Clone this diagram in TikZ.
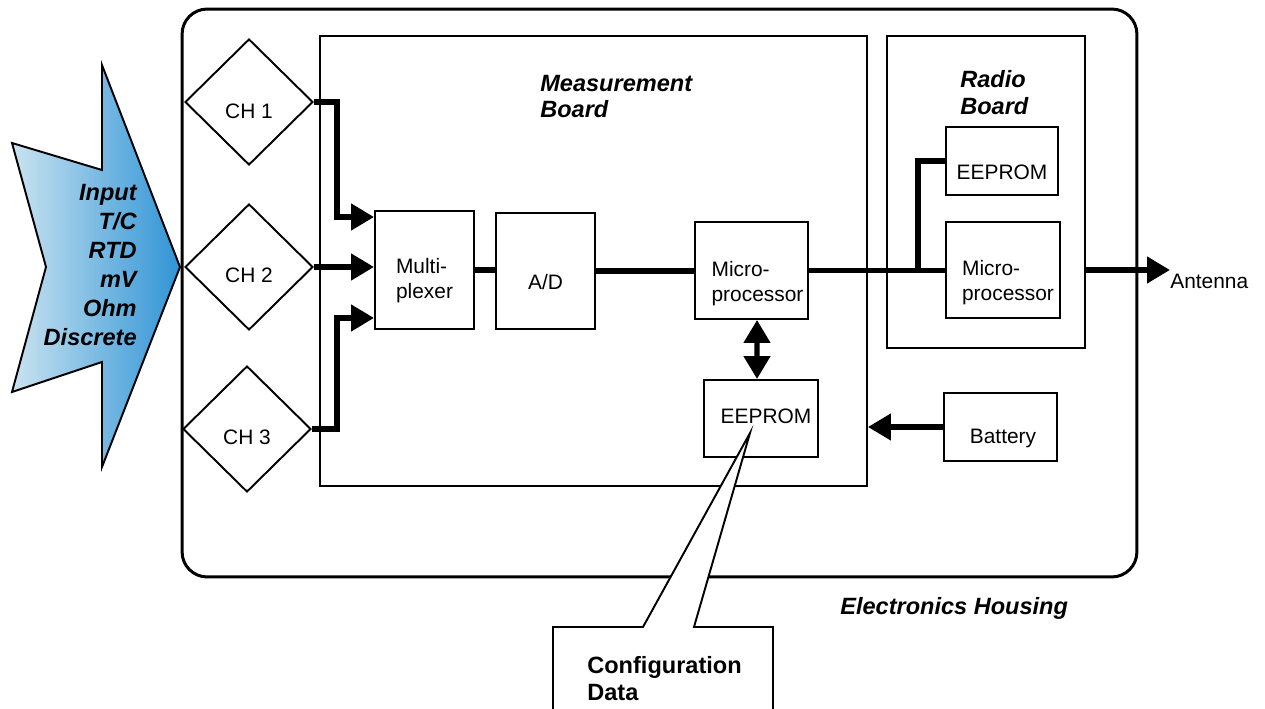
\documentclass[tikz,border=0pt]{standalone}
\usepackage{fontspec}
\setmainfont{Liberation Sans}
\usetikzlibrary{shapes.geometric,arrows.meta}
\definecolor{inlight}{RGB}{202,227,240}
\definecolor{indark}{RGB}{48,148,214}
\tikzset{
    blk/.style={draw, line width=1.1pt, inner sep=0pt, fill=white},
    chan/.style={draw, diamond, line width=1.1pt, inner sep=0pt, fill=white,
                 minimum width=2.56cm, minimum height=2.52cm},
    txt/.style={font=\fontsize{11.9}{14.2}\selectfont, align=left, inner sep=0pt},
    ttl/.style={font=\fontsize{13.4}{15.3}\selectfont\bfseries\itshape, align=left, inner sep=0pt},
    bus/.style={line width=3.1pt}
}
\begin{document}
\begin{tikzpicture}[
                            x=0.02cm, y=-0.02cm,
                            >={Triangle[length=13pt,width=14.5pt]}
                        ]
                        \useasboundingbox (0,0) rectangle (1265,709);
                        \clip (0,0) rectangle (1265,709);
                        % Housing and boards
                        \node [blk, line width=1.7pt, rounded corners=0.5cm, minimum width=19.1cm, minimum height=11.36cm] (housing) at (659.5,293) {};
                        \node [blk, minimum width=10.94cm, minimum height=9cm] (meas) at (593.5,261) {};
                        \node [blk, minimum width=3.96cm, minimum height=6.24cm] (radio) at (986,192) {};

                        % Input arrow
                        \draw [line width=1.1pt, left color=inlight, right color=indark] (12,143) -- (102,170) -- (102,65) -- (180,267) -- (102,467) -- (102,362) -- (12,392) -- (46,267) -- cycle;
                        \node [ttl, font=\fontsize{13.4}{16.4}\selectfont\bfseries\itshape, align=right, anchor=east] (input) at (137,265) {Input\\T/C\\RTD\\mV\\Ohm\\Discrete};

                        % Channels
                        \node [chan, label={[txt,yshift=-0.18cm]center:CH 1}] (ch1) at (249,102) {};
                        \node [chan, label={[txt,yshift=-0.16cm]center:CH 2}] (ch2) at (249,267) {};
                        \node [chan, label={[txt,yshift=-0.16cm]center:CH 3}] (ch3) at (247,429) {};

                        % Blocks
                        \node [blk, minimum width=1.98cm, minimum height=2.36cm, label={[txt,yshift=-0.22cm]center:{Multi-\\plexer}}] (mux) at (424.5,270) {};
                        \node [blk, minimum width=1.98cm, minimum height=2.32cm, label={[txt,yshift=-0.22cm]center:A/D}] (ad) at (545.5,271) {};
                        \node [blk, minimum width=2.26cm, minimum height=1.94cm, label={[txt,yshift=-0.26cm,xshift=0.12cm]center:{Micro-\\processor}}] (micro1) at (751.5,270.5) {};
                        \node [blk, minimum width=2.28cm, minimum height=1.54cm, label={[txt,yshift=0.04cm,xshift=0.1cm]center:EEPROM}] (eeprom1) at (761,418.5) {};
                        \node [blk, minimum width=2.24cm, minimum height=1.36cm, label={[txt,yshift=-0.22cm]center:EEPROM}] (eeprom2) at (1002,161) {};
                        \node [blk, minimum width=2.28cm, minimum height=1.92cm, label={[txt,yshift=-0.26cm,xshift=0.1cm]center:{Micro-\\processor}}] (micro2) at (1003,270) {};
                        \node [blk, minimum width=2.26cm, minimum height=1.36cm, label={[txt,yshift=-0.22cm,xshift=0.05cm]center:Battery}] (battery) at (1000.5,427) {};
                        \node [txt, anchor=west] (antenna) at (1170,281) {Antenna};
                        \coordinate (split) at (918,270.5);

                        % Connections
                        \draw [bus,->] (ch1.east) -- ++(23,0) |- ([yshift=1.06cm]mux.west);
                        \draw [bus,->] (ch2.east) -- (mux.west |- ch2.east);
                        \draw [bus,->] (ch3.east) -- ++(25,0) |- ([yshift=-0.96cm]mux.west);
                        \draw [bus] (mux.east) -- (ad.west |- mux.east);
                        \draw [bus] (ad.east) -- (micro1.west |- ad.east);
                        \draw [bus] (micro1.east) -- (micro2.west |- micro1.east);
                        \draw [bus] (split) |- (eeprom2.west);
                        \draw [bus,<->] ([xshift=0.11cm]micro1.south) -- ([xshift=-0.08cm]eeprom1.north);
                        \draw [bus,->] (radio.east |- micro2.east) -- (antenna.west |- micro2.east);
                        \draw [bus,->] (battery.west) -- (meas.east |- battery.west);

                        % Callout
                        \draw [line width=1.1pt, fill=white] (553,720) -- (553,627) -- (643,627) -- (750,433) -- (694,627) -- (773,627) -- (773,720);
                        \node [ttl, font=\fontsize{13.4}{15.3}\selectfont\bfseries, anchor=west] (config) at (587,679) {Configuration\\Data};

                        % Titles
                        \node [ttl, anchor=west] (meastitle) at (540,96.5) {Measurement\\Board};
                        \node [ttl, anchor=west] (radiotitle) at (960,92.5) {Radio\\Board};
                        \node [ttl, anchor=west] (houselbl) at (840,608) {Electronics Housing};
                    \end{tikzpicture}
\end{document}
